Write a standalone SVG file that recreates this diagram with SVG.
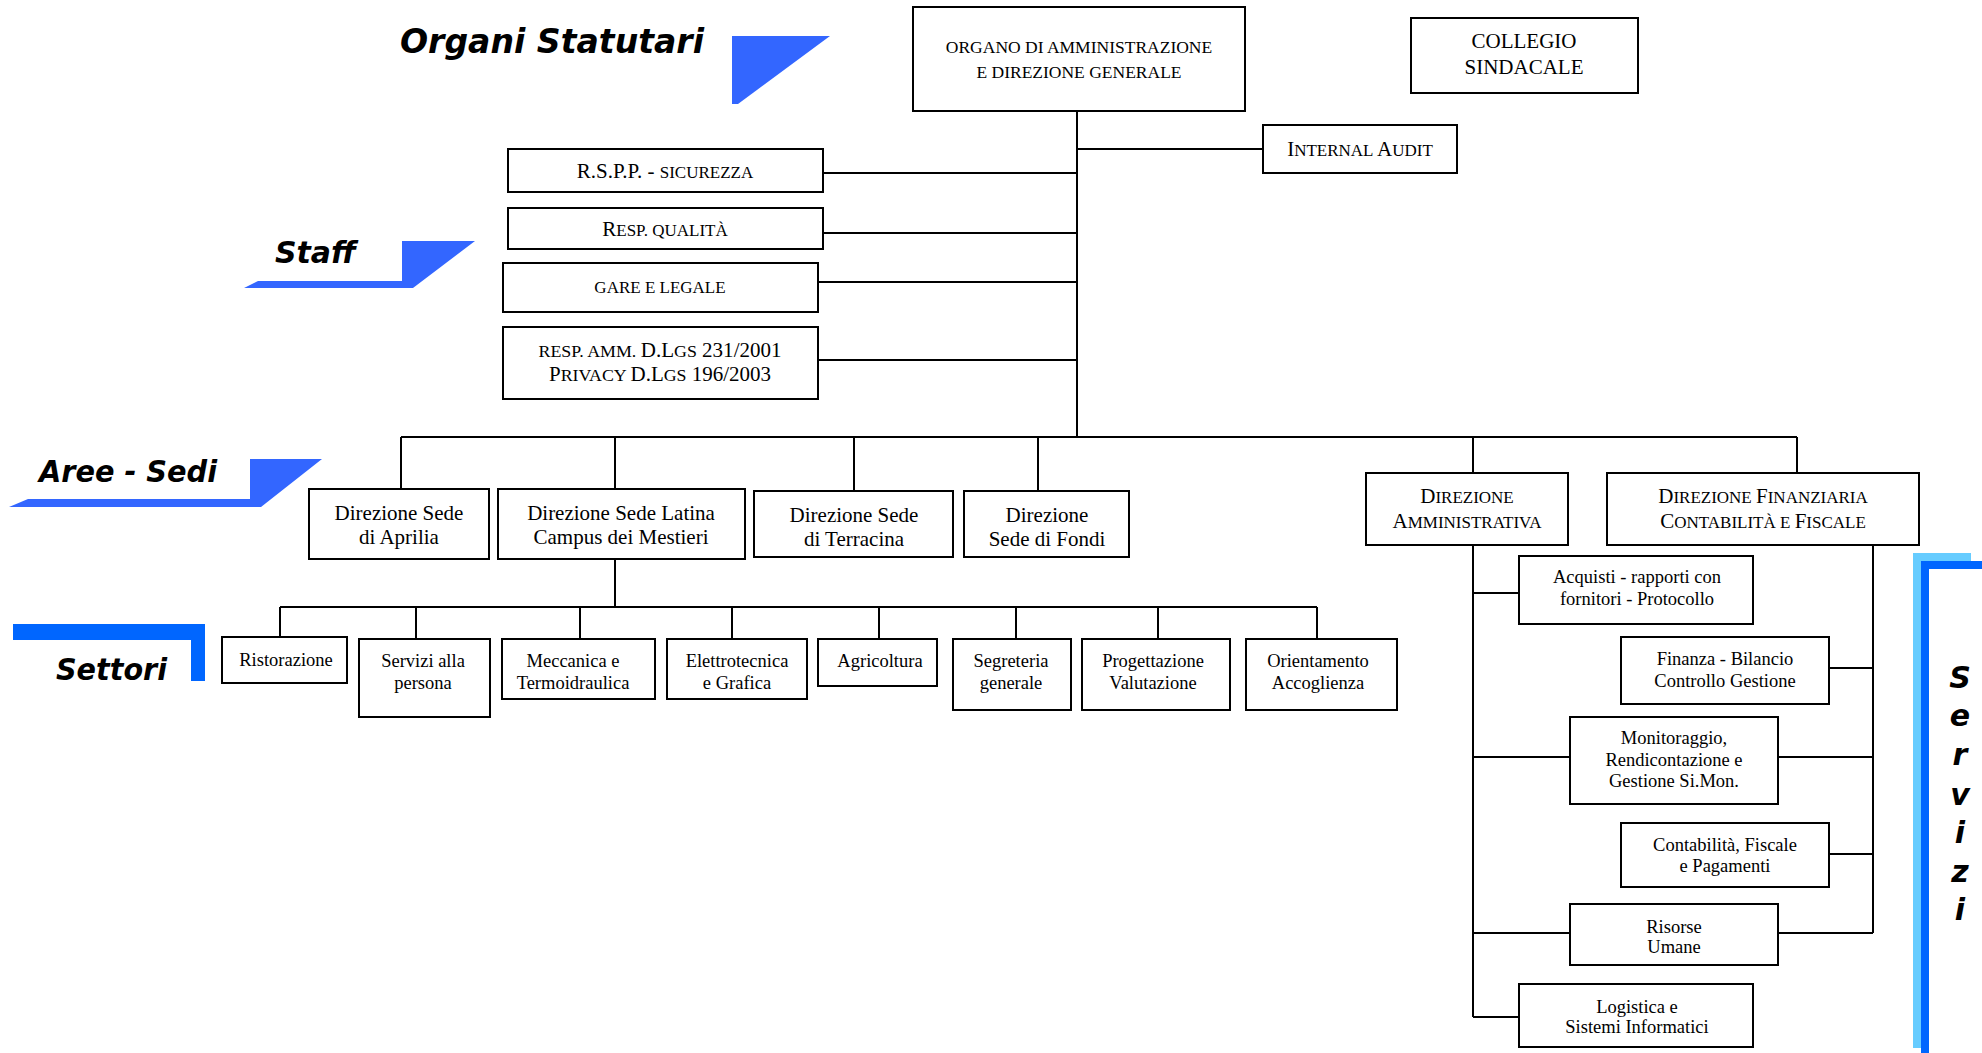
<svg xmlns="http://www.w3.org/2000/svg" width="1982" height="1053" viewBox="0 0 1982 1053">
<style>
.box{fill:#fff;stroke:#000;stroke-width:2}
.ln{stroke:#000;stroke-width:2;fill:none}
.t{font-family:"Liberation Serif","Times New Roman",serif;fill:#000;text-anchor:middle}
.big{font-size:21px}
.sm{font-size:18.5px}
.sc{font-size:17px}
.h{font-family:"DejaVu Sans",Verdana,sans-serif;font-weight:bold;font-style:italic;fill:#000}
.blue{fill:#3366FF}
.dblue{fill:#0066FF}
.lblue{fill:#66CCFF}
</style>
<rect width="1982" height="1053" fill="#fff"/>

<!-- section labels -->
<g id="label-organi">
<polygon class="blue" points="732,36 830,36 738,104 732,104"/>
<text class="h" x="400" y="53" font-size="34" textLength="304" lengthAdjust="spacingAndGlyphs">Organi Statutari</text>
</g>
<g id="label-staff">
<polygon class="blue" points="402,241 475,241 413,288 244,288 258,281 402,281"/>
<text class="h" x="275" y="263" font-size="31" textLength="81" lengthAdjust="spacingAndGlyphs">Staff</text>
</g>
<g id="label-aree">
<polygon class="blue" points="250,459 322,459 261,507 9,507 28,499 250,499"/>
<text class="h" x="39" y="482" font-size="31" textLength="178" lengthAdjust="spacingAndGlyphs">Aree - Sedi</text>
</g>
<g id="label-settori">
<polygon class="dblue" points="13,624 205,624 205,681 191,681 191,640 13,640"/>
<text class="h" x="56" y="680" font-size="31" textLength="111" lengthAdjust="spacingAndGlyphs">Settori</text>
</g>
<g id="label-servizi">
<polygon class="lblue" points="1913,553 1971,553 1971,561 1921,561 1921,1048 1913,1048"/>
<polygon class="dblue" points="1921,561 1982,561 1982,569 1929,569 1929,1053 1921,1053"/>
<text class="h" font-size="30" text-anchor="middle"><tspan x="1960" y="688">S</tspan><tspan x="1960" y="726">e</tspan><tspan x="1960" y="765">r</tspan><tspan x="1960" y="805">v</tspan><tspan x="1960" y="843">i</tspan><tspan x="1960" y="882">z</tspan><tspan x="1960" y="920">i</tspan></text>
</g>

<!-- connectors -->
<g id="connectors" class="ln">
<path d="M1077,111 V437"/>
<path d="M1077,149 H1263"/>
<path d="M823,173 H1077"/>
<path d="M823,233 H1077"/>
<path d="M818,282 H1077"/>
<path d="M818,360 H1077"/>
<path d="M401,437 H1797"/>
<path d="M401,437 V489"/>
<path d="M615,437 V489"/>
<path d="M854,437 V491"/>
<path d="M1038,437 V491"/>
<path d="M1473,437 V473"/>
<path d="M1797,437 V473"/>
<path d="M615,559 V607"/>
<path d="M280,607 H1317"/>
<path d="M280,607 V637"/>
<path d="M416,607 V639"/>
<path d="M580,607 V639"/>
<path d="M732,607 V639"/>
<path d="M879,607 V639"/>
<path d="M1016,607 V639"/>
<path d="M1158,607 V639"/>
<path d="M1317,607 V639"/>
<path d="M1473,545 V1017"/>
<path d="M1473,593 H1519"/>
<path d="M1473,757 H1570"/>
<path d="M1473,933 H1570"/>
<path d="M1473,1017 H1519"/>
<path d="M1873,545 V933"/>
<path d="M1829,668 H1873"/>
<path d="M1778,757 H1873"/>
<path d="M1829,854 H1873"/>
<path d="M1778,933 H1873"/>
</g>

<!-- top -->
<g id="organo">
<rect class="box" x="913" y="7" width="332" height="104"/>
<text class="t" x="1079" y="53" font-size="17.5">ORGANO DI AMMINISTRAZIONE</text>
<text class="t" x="1079" y="78" font-size="17.5">E DIREZIONE GENERALE</text>
</g>
<g id="collegio">
<rect class="box" x="1411" y="18" width="227" height="75"/>
<text class="t" x="1524" y="48" font-size="21">COLLEGIO</text>
<text class="t" x="1524" y="74" font-size="21">SINDACALE</text>
</g>
<g id="internal-audit">
<rect class="box" x="1263" y="125" width="194" height="48"/>
<text class="t" x="1360" y="156" font-size="21">I<tspan class="sc">NTERNAL </tspan>A<tspan class="sc">UDIT</tspan></text>
</g>

<!-- staff -->
<g id="rspp">
<rect class="box" x="508" y="149" width="315" height="43"/>
<text class="t" x="665" y="178" font-size="21">R.S.P.P. - <tspan class="sc">SICUREZZA</tspan></text>
</g>
<g id="qualita">
<rect class="box" x="508" y="208" width="315" height="41"/>
<text class="t" x="665" y="236" font-size="21">R<tspan class="sc">ESP. QUALITÀ</tspan></text>
</g>
<g id="gare">
<rect class="box" x="503" y="263" width="315" height="49"/>
<text class="t sc" x="660" y="293">GARE E LEGALE</text>
</g>
<g id="resp-amm">
<rect class="box" x="503" y="327" width="315" height="72"/>
<text class="t" x="660" y="357" font-size="20" textLength="243" lengthAdjust="spacingAndGlyphs"><tspan font-size="17">RESP. AMM. </tspan>D.L<tspan font-size="17">GS</tspan> 231/2001</text>
<text class="t" x="660" y="381" font-size="20" textLength="222" lengthAdjust="spacingAndGlyphs">P<tspan font-size="17">RIVACY </tspan>D.L<tspan font-size="17">GS</tspan> 196/2003</text>
</g>

<!-- sedi -->
<g id="aprilia">
<rect class="box" x="309" y="489" width="180" height="70"/>
<text class="t big" x="399" y="520">Direzione Sede</text>
<text class="t big" x="399" y="544">di Aprilia</text>
</g>
<g id="latina">
<rect class="box" x="498" y="489" width="247" height="70"/>
<text class="t big" x="621" y="520">Direzione Sede Latina</text>
<text class="t big" x="621" y="544">Campus dei Mestieri</text>
</g>
<g id="terracina">
<rect class="box" x="754" y="491" width="199" height="66"/>
<text class="t big" x="854" y="522">Direzione Sede</text>
<text class="t big" x="854" y="546">di Terracina</text>
</g>
<g id="fondi">
<rect class="box" x="964" y="491" width="165" height="66"/>
<text class="t big" x="1047" y="522">Direzione</text>
<text class="t big" x="1047" y="546">Sede di Fondi</text>
</g>
<g id="dir-amm">
<rect class="box" x="1366" y="473" width="202" height="72"/>
<text class="t" x="1467" y="503" font-size="21">D<tspan class="sc">IREZIONE</tspan></text>
<text class="t" x="1467" y="528" font-size="21">A<tspan class="sc">MMINISTRATIVA</tspan></text>
</g>
<g id="dir-fin">
<rect class="box" x="1607" y="473" width="312" height="72"/>
<text class="t" x="1763" y="503" font-size="21">D<tspan class="sc">IREZIONE </tspan>F<tspan class="sc">INANZIARIA</tspan></text>
<text class="t" x="1763" y="528" font-size="21">C<tspan class="sc">ONTABILITÀ E </tspan>F<tspan class="sc">ISCALE</tspan></text>
</g>

<!-- settori -->
<g id="ristorazione">
<rect class="box" x="222" y="637" width="125" height="46"/>
<text class="t sm" x="286" y="666">Ristorazione</text>
</g>
<g id="servizi-persona">
<rect class="box" x="359" y="639" width="131" height="78"/>
<text class="t sm" x="423" y="667">Servizi alla</text>
<text class="t sm" x="423" y="689">persona</text>
</g>
<g id="meccanica">
<rect class="box" x="502" y="639" width="153" height="60"/>
<text class="t sm" x="573" y="667">Meccanica e</text>
<text class="t sm" x="573" y="689">Termoidraulica</text>
</g>
<g id="elettrotecnica">
<rect class="box" x="667" y="639" width="140" height="60"/>
<text class="t sm" x="737" y="667">Elettrotecnica</text>
<text class="t sm" x="737" y="689">e Grafica</text>
</g>
<g id="agricoltura">
<rect class="box" x="818" y="639" width="119" height="47"/>
<text class="t sm" x="880" y="667">Agricoltura</text>
</g>
<g id="segreteria">
<rect class="box" x="953" y="639" width="118" height="71"/>
<text class="t sm" x="1011" y="667">Segreteria</text>
<text class="t sm" x="1011" y="689">generale</text>
</g>
<g id="progettazione">
<rect class="box" x="1082" y="639" width="148" height="71"/>
<text class="t sm" x="1153" y="667">Progettazione</text>
<text class="t sm" x="1153" y="689">Valutazione</text>
</g>
<g id="orientamento">
<rect class="box" x="1246" y="639" width="151" height="71"/>
<text class="t sm" x="1318" y="667">Orientamento</text>
<text class="t sm" x="1318" y="689">Accoglienza</text>
</g>

<!-- servizi -->
<g id="acquisti">
<rect class="box" x="1519" y="556" width="234" height="68"/>
<text class="t sm" x="1637" y="583">Acquisti - rapporti con</text>
<text class="t sm" x="1637" y="605">fornitori - Protocollo</text>
</g>
<g id="finanza">
<rect class="box" x="1621" y="637" width="208" height="67"/>
<text class="t sm" x="1725" y="665">Finanza - Bilancio</text>
<text class="t sm" x="1725" y="687">Controllo Gestione</text>
</g>
<g id="monitoraggio">
<rect class="box" x="1570" y="717" width="208" height="87"/>
<text class="t sm" x="1674" y="744">Monitoraggio,</text>
<text class="t sm" x="1674" y="766">Rendicontazione e</text>
<text class="t sm" x="1674" y="787">Gestione Si.Mon.</text>
</g>
<g id="contabilita">
<rect class="box" x="1621" y="823" width="208" height="64"/>
<text class="t sm" x="1725" y="851">Contabilità, Fiscale</text>
<text class="t sm" x="1725" y="872">e Pagamenti</text>
</g>
<g id="risorse">
<rect class="box" x="1570" y="904" width="208" height="61"/>
<text class="t sm" x="1674" y="933">Risorse</text>
<text class="t sm" x="1674" y="953">Umane</text>
</g>
<g id="logistica">
<rect class="box" x="1519" y="984" width="234" height="63"/>
<text class="t sm" x="1637" y="1013">Logistica e</text>
<text class="t sm" x="1637" y="1033">Sistemi Informatici</text>
</g>
</svg>
